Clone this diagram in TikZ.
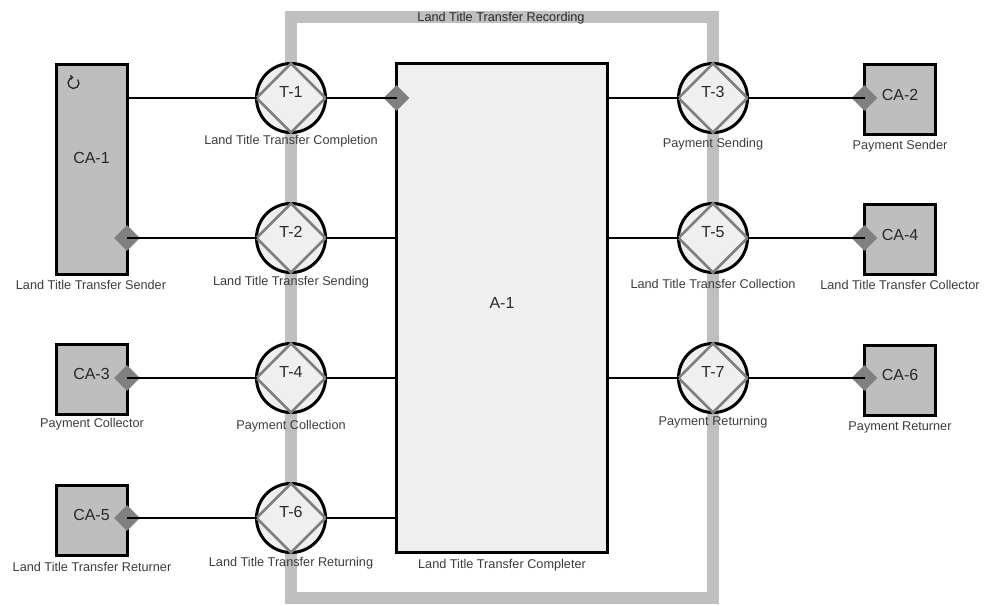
\documentclass[tikz,border=0pt]{standalone}
\usepackage{fontspec}
\setmainfont{Liberation Sans}
\usetikzlibrary{shapes.geometric, arrows.meta, positioning, calc}
\definecolor{mybound}{RGB}{191,191,191}
\definecolor{myactor}{RGB}{190,190,190}
\definecolor{mypale}{RGB}{239,239,239}
\definecolor{myport}{RGB}{128,128,128}
\definecolor{mytext}{RGB}{60,60,60}
\definecolor{myname}{RGB}{40,40,40}
\newcommand{\namefont}{\fontsize{16}{19}\selectfont}
\newcommand{\lblfont}{\fontsize{12.7}{15}\selectfont}
\tikzset{
  actor/.style={rectangle, draw=black, fill=myactor, line width=3pt,
    minimum width=71pt, minimum height=70pt, inner sep=0pt, outer sep=0pt,
    font=\namefont, text=myname, text depth=10pt},
  agent/.style={rectangle, draw=black, fill=mypale, line width=3.5pt,
    minimum width=211pt, minimum height=489pt, inner sep=0pt, outer sep=0pt,
    font=\namefont, text=myname, text depth=10pt},
  trans/.style={circle, draw=black, fill=mypale, line width=3pt,
    minimum size=69pt, inner sep=0pt, outer sep=0pt,
    font=\namefont, text=myname, text depth=12pt},
  tdiam/.style={draw=myport, line width=2.6pt},
  port/.style={diamond, fill=myport, minimum size=26pt, inner sep=0pt},
  conn/.style={draw=black, line width=2pt},
  bound/.style={draw=mybound, line width=12pt},
  lbl/.style={font=\lblfont, text=mytext, inner sep=0pt,
    text height=9pt, text depth=0pt},
  icon/.style={draw=myname, line width=1.3pt, -{Straight Barb[length=2.2pt, width=4pt]}}
}

\begin{document}
\begin{tikzpicture}[x=1pt, y=-1pt]
  \useasboundingbox (0,0) rectangle (984,605);

  % scope boundary
  \draw[bound] (291,17) rectangle (712.5,598);
  \node[lbl, text=myname] (scope) at (501,17) {Land Title Transfer Recording};

  % actor roles
  \node[actor, minimum height=210pt, text depth=23pt] (ca1) at (91.5,169.5) {CA-1};
  \node[actor] (ca3) at (91.5,379) {CA-3};
  \node[actor] (ca5) at (91.5,520) {CA-5};
  \node[actor] (ca2) at (900,99.5) {CA-2};
  \node[actor] (ca4) at (900,239.5) {CA-4};
  \node[actor] (ca6) at (900,380) {CA-6};
  \node[agent] (a1) at (502,308) {A-1};

  \draw[icon] (73.5,83) ++(-40:5.5) arc(-40:270:5.5);

  % transactions
  \foreach \n/\x/\y in {1/291/98, 2/291/238, 4/291/378, 6/291/518,
                        3/713/98, 5/713/238, 7/713/378} {
    \node[trans] (t\n) at (\x,\y) {T-\n};
    \draw[tdiam] (t\n.north) -- (t\n.east) -- (t\n.south) -- (t\n.west) -- cycle;
  }

  % executor ports
  \node[port] (pca1) at (ca1.east |- t2) {};
  \node[port] (pca3) at (ca3.east |- t4) {};
  \node[port] (pca5) at (ca5.east |- t6) {};
  \node[port] (pa1) at (a1.west |- t1) {};
  \node[port] (pca2) at (ca2.west |- t3) {};
  \node[port] (pca4) at (ca4.west |- t5) {};
  \node[port] (pca6) at (ca6.west |- t7) {};

  % links
  \draw[conn] (t1.west) -- (t1 -| ca1.east);
  \draw[conn] (t1.east) -- (pa1.center);
  \draw[conn] (pca1.center) -- (t2.west);
  \draw[conn] (t2.east) -- (t2 -| a1.west);
  \draw[conn] (pca3.center) -- (t4.west);
  \draw[conn] (t4.east) -- (t4 -| a1.west);
  \draw[conn] (pca5.center) -- (t6.west);
  \draw[conn] (t6.east) -- (t6 -| a1.west);
  \draw[conn] (t3 -| a1.east) -- (t3.west);
  \draw[conn] (t3.east) -- (pca2.center);
  \draw[conn] (t5 -| a1.east) -- (t5.west);
  \draw[conn] (t5.east) -- (pca4.center);
  \draw[conn] (t7 -| a1.east) -- (t7.west);
  \draw[conn] (t7.east) -- (pca6.center);

  % labels
  \node[lbl] (lca1) at (91,285) {Land Title Transfer Sender};
  \node[lbl] (lca3) at (92,423) {Payment Collector};
  \node[lbl] (lca5) at (92,567) {Land Title Transfer Returner};
  \node[lbl] (lca2) at (900,145) {Payment Sender};
  \node[lbl] (lca4) at (900,285) {Land Title Transfer Collector};
  \node[lbl] (lca6) at (900,426) {Payment Returner};
  \node[lbl] (la1) at (502,564) {Land Title Transfer Completer};
  \node[lbl] (lt1) at (291,140) {Land Title Transfer Completion};
  \node[lbl] (lt2) at (291,281) {Land Title Transfer Sending};
  \node[lbl] (lt4) at (291,425) {Payment Collection};
  \node[lbl] (lt6) at (291,562) {Land Title Transfer Returning};
  \node[lbl] (lt3) at (713,143) {Payment Sending};
  \node[lbl] (lt5) at (713,284) {Land Title Transfer Collection};
  \node[lbl] (lt7) at (713,421) {Payment Returning};
\end{tikzpicture}
\end{document}
